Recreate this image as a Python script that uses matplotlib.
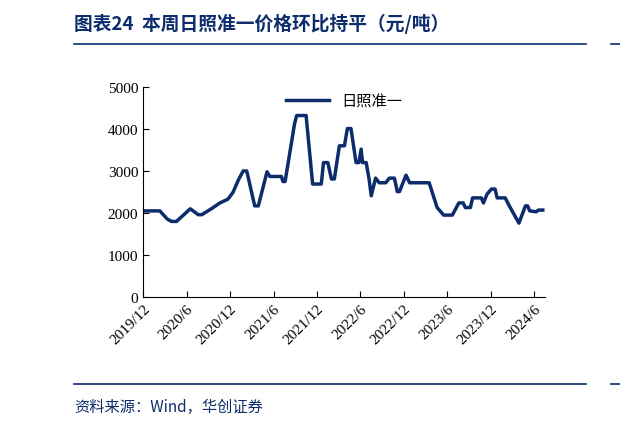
import matplotlib.pyplot as plt

# month index since 2019/12 and price (yuan/ton)
months = [0, 2.3, 3.3, 3.9, 4.6, 6.5, 7.6, 8.1, 9.4, 10.6, 11.7, 12.4, 13.1, 13.8, 14.3,
          15.4, 15.9, 17.1, 17.5, 19.1, 19.3, 19.6, 20.0, 20.9, 21.2, 22.5, 23.4, 24.6,
          24.9, 25.5, 26.0, 26.4, 27.1, 27.8, 28.2, 28.7, 29.4, 29.8, 30.1, 30.3, 30.8,
          31.2, 31.5, 32.1, 32.6, 33.5, 34.0, 34.7, 35.1, 35.4, 36.3, 36.8, 39.5, 40.6,
          41.5, 42.7, 43.6, 44.2, 44.5, 45.2, 45.5, 46.7, 47.0, 47.5, 48.1, 48.6, 48.9,
          50.0, 50.7, 51.9, 52.8, 53.1, 53.4, 54.3, 54.6, 55.2]
price = [2050, 2050, 1860, 1800, 1800, 2100, 1960, 1960, 2100, 2240, 2330, 2490, 2770, 3000, 3000,
         2170, 2170, 2980, 2870, 2870, 2750, 2750, 3170, 4120, 4320, 4320, 2690, 2690,
         3200, 3200, 2810, 2810, 3600, 3600, 4010, 4010, 3200, 3200, 3520, 3200, 3200,
         2810, 2410, 2830, 2720, 2720, 2830, 2830, 2510, 2510, 2900, 2720, 2720, 2130,
         1950, 1950, 2240, 2240, 2130, 2130, 2360, 2360, 2240, 2450, 2570, 2570, 2360,
         2360, 2130, 1760, 2170, 2170, 2050, 2030, 2070, 2070]
tick_pos = [0, 6, 12, 18, 24, 30, 36, 42, 48, 54]
tick_labels = ['2019/12', '2020/6', '2020/12', '2021/6', '2021/12', '2022/6',
               '2022/12', '2023/6', '2023/12', '2024/6']

blue = '#0c2c6c'
serif = 'Liberation Serif'
cjk = 'Noto Sans CJK SC'

fig = plt.figure(figsize=(6.2, 4.27), dpi=100)
ax = fig.add_axes([0.231, 0.302, 0.648, 0.492])
ax.plot(months, price, color=blue, lw=2.5, label='日照准一')
ax.set_xlim(0, 55.5)
ax.set_ylim(0, 5000)
ax.set_yticks(range(0, 5001, 1000))
ax.set_xticks(tick_pos)
ax.set_xticklabels(tick_labels, rotation=45, ha='right', rotation_mode='anchor')
for lab in ax.get_xticklabels() + ax.get_yticklabels():
    lab.set_fontfamily(serif)
    lab.set_fontsize(11)
for s in ['top', 'right']:
    ax.spines[s].set_visible(False)
ax.tick_params(direction='in', length=4)

leg = ax.legend(loc='upper center', bbox_to_anchor=(0.5, 1.04), frameon=False,
                prop={'family': cjk, 'size': 11}, handlelength=2.8)

fig.text(0.12, 0.945, '图表24  本周日照准一价格环比持平（元/吨）', color=blue,
         fontfamily=cjk, fontweight='bold', fontsize=13.5, va='center')
fig.add_artist(plt.Line2D([0.12, 0.945], [0.895, 0.895], color=blue, lw=1.2))
fig.add_artist(plt.Line2D([0.12, 0.945], [0.098, 0.098], color=blue, lw=1.2))
fig.add_artist(plt.Line2D([0.985, 1.0], [0.895, 0.895], color=blue, lw=1.2))
fig.add_artist(plt.Line2D([0.985, 1.0], [0.098, 0.098], color=blue, lw=1.2))
fig.text(0.12, 0.045, '资料来源：Wind，华创证券', color=blue, fontfamily=cjk,
         fontstyle='italic', fontsize=11, va='center')

fig.savefig('out.png', dpi=100)
